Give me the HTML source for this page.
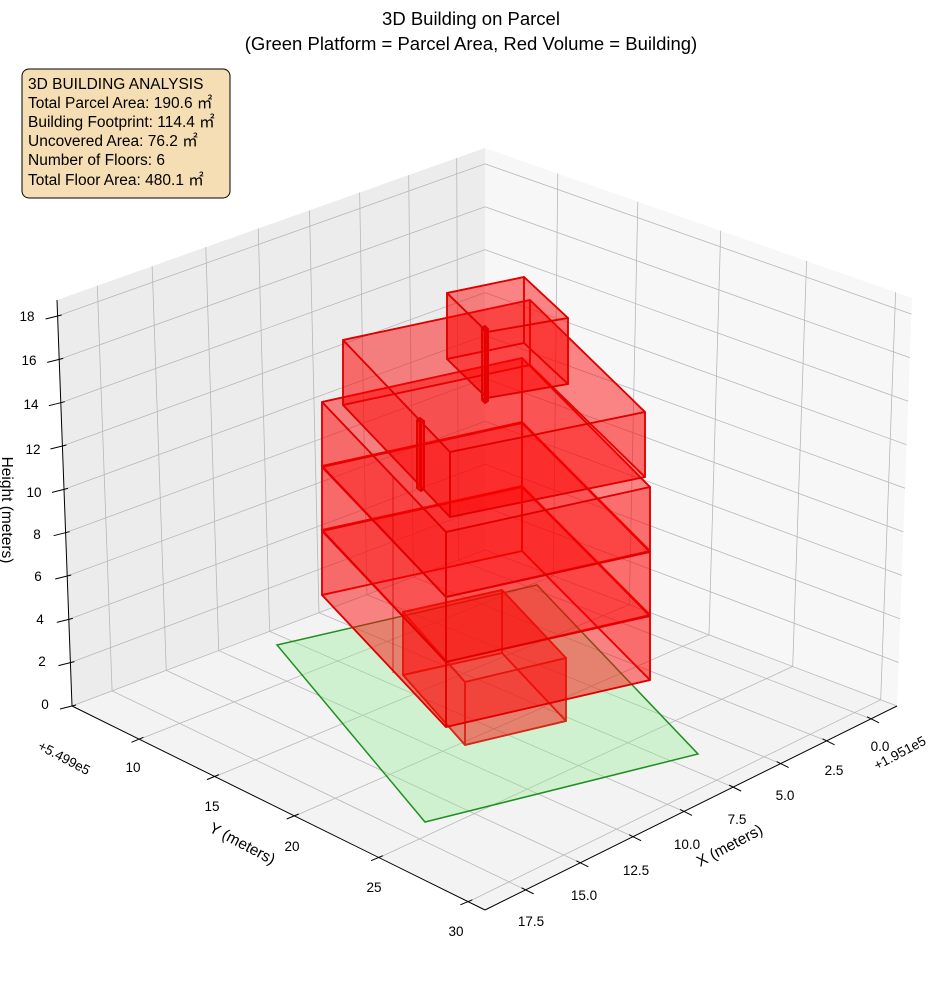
<!DOCTYPE html>
<html><head><meta charset="utf-8"><style>
html,body{margin:0;padding:0;background:#fff;}
svg{display:block;font-family:"Liberation Sans","Noto Sans CJK JP",sans-serif;}
</style></head><body>
<svg id="s" width="944" height="992" viewBox="0 0 944 992" xmlns="http://www.w3.org/2000/svg">
<g id="panes"></g>
<g id="grid" stroke="#b8b8b8" stroke-width="0.8" fill="none"></g>
<polygon points="277,645 537,585 698,754 425,822" fill="rgb(144,238,144)" fill-opacity="0.35" stroke="#1f8f1f" stroke-width="1.5"/>
<g id="bld"></g>
<g id="axes" stroke="#000" stroke-width="1" fill="none"></g>
<g id="labels" font-size="13.5" fill="#000" text-anchor="middle">
<text x="45" y="709">0</text><text x="42" y="666">2</text><text x="40" y="624">4</text><text x="38" y="581">6</text><text x="37" y="539">8</text>
<text x="34" y="497">10</text><text x="33" y="454">12</text><text x="31" y="409">14</text><text x="29" y="365">16</text><text x="27" y="321">18</text>
<text x="133" y="772">10</text><text x="212" y="811">15</text><text x="292" y="851">20</text><text x="374" y="892">25</text><text x="456" y="936">30</text>
<text x="880" y="751">0.0</text><text x="834" y="775">2.5</text><text x="785" y="800">5.0</text><text x="737" y="824">7.5</text>
<text x="687" y="849">10.0</text><text x="636" y="875">12.5</text><text x="584" y="900">15.0</text><text x="531" y="926">17.5</text>
</g>
<text x="62" y="762" font-size="13.5" transform="rotate(28 62 762)" text-anchor="middle">+5.499e5</text>
<text x="902" y="757" font-size="13.5" transform="rotate(-28 902 757)" text-anchor="middle">+1.951e5</text>
<text x="240" y="848" font-size="15.5" transform="rotate(28 240 848)" text-anchor="middle">Y (meters)</text>
<text x="732" y="850" font-size="15.5" transform="rotate(-28 732 850)" text-anchor="middle">X (meters)</text>
<text x="2" y="510" font-size="15.5" transform="rotate(90 2 510)" text-anchor="middle">Height (meters)</text>
<text x="471" y="25" font-size="18.5" text-anchor="middle">3D Building on Parcel</text>
<text x="471" y="50" font-size="18.5" text-anchor="middle">(Green Platform = Parcel Area, Red Volume = Building)</text>
<rect x="22" y="69" width="208" height="129" rx="7" fill="#f5deb3" stroke="#000" stroke-width="1"/>
<g font-size="15.5" fill="#000">
<text x="28" y="89">3D BUILDING ANALYSIS</text>
<text x="28" y="108">Total Parcel Area: 190.6 ㎡</text>
<text x="28" y="127">Building Footprint: 114.4 ㎡</text>
<text x="28" y="146">Uncovered Area: 76.2 ㎡</text>
<text x="28" y="165">Number of Floors: 6</text>
<text x="28" y="185">Total Floor Area: 480.1 ㎡</text>
</g>
</svg>
<script>
(function(){
var NS="http://www.w3.org/2000/svg";
function homog(p0,p1,p2,p3){
 var x0=p0[0],y0=p0[1],x1=p1[0],y1=p1[1],x2=p2[0],y2=p2[1],x3=p3[0],y3=p3[1];
 var sx=x0-x1+x2-x3, sy=y0-y1+y2-y3;
 var dx1=x1-x2,dx2=x3-x2,dy1=y1-y2,dy2=y3-y2;
 var den=dx1*dy2-dx2*dy1;
 var g=(sx*dy2-dx2*sy)/den, h=(dx1*sy-sx*dy1)/den;
 var a=x1-x0+g*x1,b=x3-x0+h*x3,c=x0,d=y1-y0+g*y1,e=y3-y0+h*y3,f=y0;
 return function(u,v){var w=g*u+h*v+1;return [(a*u+b*v+c)/w,(d*u+e*v+f)/w];};
}
var Xmin=-1.5,Xmax=19.3,Ymin=5.3,Ymax=30.9,Zmax=18.74;
var Hb=homog([485,550],[72,706],[485,910],[897,706]);
var Ht=homog([485,148],[57,300],[485,482],[912,298]);
function P(X,Y,Z){var u=(X-Xmin)/(Xmax-Xmin),v=(Y-Ymin)/(Ymax-Ymin);var b=Hb(u,v),t=Ht(u,v),k=Z/Zmax;return [b[0]+(t[0]-b[0])*k,b[1]+(t[1]-b[1])*k];}
function el(par,tag,at){var e=document.createElementNS(NS,tag);for(var k in at)e.setAttribute(k,at[k]);document.getElementById(par).appendChild(e);return e;}
function pts(a){return a.map(function(p){return p[0].toFixed(1)+","+p[1].toFixed(1);}).join(" ");}
function line(par,a,b,extra){var o={x1:a[0],y1:a[1],x2:b[0],y2:b[1]};for(var k in extra)o[k]=extra[k];el(par,"line",o);}
el("panes","polygon",{points:pts([P(Xmax,Ymin,0),P(Xmin,Ymin,0),P(Xmin,Ymin,Zmax),P(Xmax,Ymin,Zmax)]),fill:"#ececec"});
el("panes","polygon",{points:pts([P(Xmin,Ymin,0),P(Xmin,Ymax,0),P(Xmin,Ymax,Zmax),P(Xmin,Ymin,Zmax)]),fill:"#f7f7f7"});
el("panes","polygon",{points:pts([P(Xmin,Ymin,0),P(Xmax,Ymin,0),P(Xmax,Ymax,0),P(Xmin,Ymax,0)]),fill:"#f3f3f3"});
var xt=[0,2.5,5,7.5,10,12.5,15,17.5], yt=[10,15,20,25,30], zt=[0,2,4,6,8,10,12,14,16,18];
xt.forEach(function(x){line("grid",P(x,Ymin,0),P(x,Ymin,Zmax));line("grid",P(x,Ymin,0),P(x,Ymax,0));});
yt.forEach(function(y){line("grid",P(Xmin,y,0),P(Xmin,y,Zmax));line("grid",P(Xmin,y,0),P(Xmax,y,0));});
zt.forEach(function(z){line("grid",P(Xmax,Ymin,z),P(Xmin,Ymin,z));line("grid",P(Xmin,Ymin,z),P(Xmin,Ymax,z));});
line("axes",[72,706],[485,910]);line("axes",[485,910],[897,706]);line("axes",[72,706],[57,300]);
zt.forEach(function(z){var p=P(Xmax,Ymin,z);line("axes",[p[0]+4,p[1]-1],[p[0]-12,p[1]+3]);});
yt.forEach(function(y){var p=P(Xmax,y,0);line("axes",[p[0]+4,p[1]-2],[p[0]-8,p[1]+3]);});
xt.forEach(function(x){var p=P(x,Ymax,0);line("axes",[p[0]-4,p[1]-2],[p[0]+8,p[1]+4]);});
function box(L,F,R,B,dy,ec){
 var T=[L,F,R,B], Bo=T.map(function(p){return [p[0],p[1]+dy];});
 var faces=[[Bo,0.2],[[T[3],T[0],Bo[0],Bo[3]],0.33],[[T[2],T[3],Bo[3],Bo[2]],0.33],[[T[0],T[1],Bo[1],Bo[0]],0.33],[[T[1],T[2],Bo[2],Bo[1]],0.33],[T,0.2]];
 faces.forEach(function(f){el("bld","polygon",{points:pts(f[0]),fill:"#ff0000","fill-opacity":f[1],stroke:ec||"#e00000","stroke-width":1.7,"stroke-linejoin":"round","stroke-opacity":0.95});});
}
box([403,612],[465,682],[566,658],[502,590],63,"#d42a1a");
box([322,530],[446,662],[650,615],[522,486],65);
box([322,466],[446,597],[650,551],[522,422],65);
box([322,402],[446,532],[650,487],[522,358],65);
el("bld","line",{x1:393,y1:477,x2:393,y2:673,stroke:"#d00000","stroke-width":1,"stroke-opacity":0.7});
box([343,340],[450,452],[645,412],[530,300],65);
box([447,293],[487,332],[568,318],[524,277],66);
box([417,420],[421,423],[424,421],[420,418],68);
box([482,328],[485,331],[488,329],[485,326],72);
})();
</script>
</body></html>
